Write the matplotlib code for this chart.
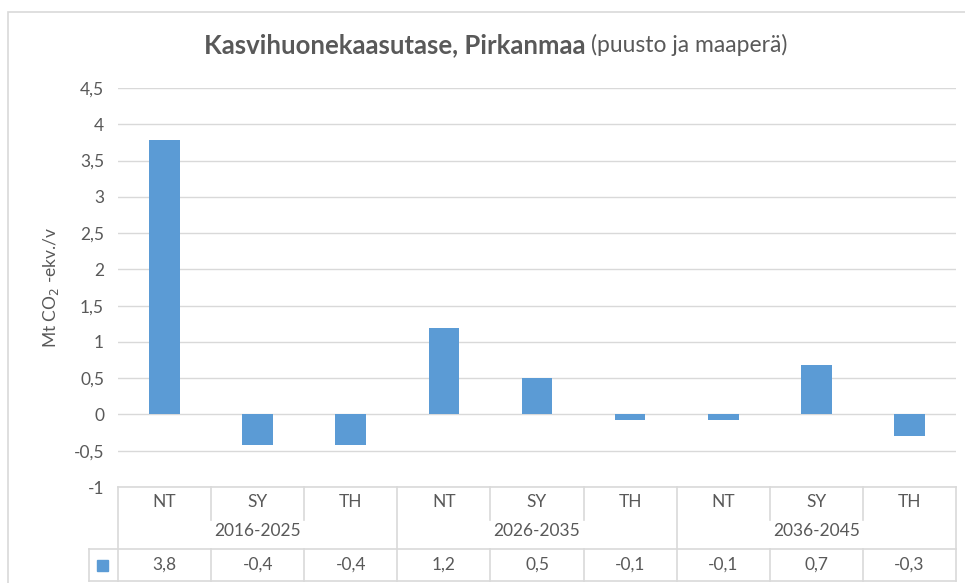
"""Greenhouse gas balance bar chart with Excel-style data table below."""

import matplotlib
matplotlib.use("Agg")
import matplotlib.pyplot as plt
from matplotlib.lines import Line2D
from matplotlib.patches import Rectangle

plt.rcParams["font.family"] = ["Lato", "DejaVu Sans"]

# data
periods = ["2016-2025", "2026-2035", "2036-2045"]
scenarios = ["NT", "SY", "TH"]
values = [3.78, -0.42, -0.42, 1.19, 0.50, -0.08, -0.08, 0.68, -0.30]
y_ticks = [-1, -0.5, 0, 0.5, 1, 1.5, 2, 2.5, 3, 3.5, 4, 4.5]

BAR = "#5b9bd5"
TXT = "#595959"
GRID = "#d9d9d9"
FS = 12.5

W, H = 965, 583
fig = plt.figure(figsize=(W / 100, H / 100), dpi=100)


def fx(px):
    return px / W


def fy(py):
    return 1 - py / H


# outer chart border
fig.add_artist(Rectangle((fx(8), fy(600)), fx(965), fy(12) - fy(600),
                         transform=fig.transFigure, fill=False,
                         edgecolor="#d9d9d9", lw=1.2))

left, right, top, bottom = 118, 956, 88, 487
ax = fig.add_axes([fx(left), fy(bottom), fx(right - left), fy(top) - fy(bottom)])

n = len(values)
x = list(range(n))
ax.bar(x, values, width=0.33, color=BAR, zorder=3)
ax.set_xlim(-0.5, n - 0.5)
ax.set_ylim(-1, 4.5)
ax.set_yticks(y_ticks)
ax.set_yticklabels([f"{t:g}".replace(".", ",") for t in y_ticks])
ax.tick_params(axis="y", length=0, pad=10, labelsize=FS, labelcolor=TXT)
ax.set_xticks([])
for s in ax.spines.values():
    s.set_visible(False)
ax.grid(axis="y", color=GRID, lw=1, zorder=0)
ax.set_ylabel("Mt CO$_2$ -ekv./v", fontsize=FS, color=TXT, labelpad=9)

# title: bold part + regular part
fig.text(fx(585), fy(45), "Kasvihuonekaasutase, Pirkanmaa", ha="right", va="center",
         fontsize=18.5, color=TXT, fontweight="bold")
fig.text(fx(591), fy(45), "(puusto ja maaperä)", ha="left", va="center",
         fontsize=16.5, color=TXT)

# data table below the axes
col_w = (right - left) / n
row1, row2, row3, row_end = 487, 520, 549, 581


def hline(y, x0, x1):
    fig.add_artist(Line2D([fx(x0), fx(x1)], [fy(y), fy(y)], color=GRID, lw=1.2))


def vline(xp, y0, y1):
    fig.add_artist(Line2D([fx(xp), fx(xp)], [fy(y0), fy(y1)], color=GRID, lw=1.2))


hline(row1, left, right)
hline(row3, 89, right)
hline(row_end, 89, right)
vline(89, row3, row_end)
for i in range(n + 1):
    xp = left + i * col_w
    if i % 3 == 0:
        vline(xp, row1, row_end)
    else:
        vline(xp, row1, row2)
        vline(xp, row3, row_end)

for i, v in enumerate(values):
    cx = left + (i + 0.5) * col_w
    fig.text(fx(cx), fy(502), scenarios[i % 3], ha="center", va="center",
             fontsize=FS, color=TXT)
    fig.text(fx(cx), fy(565), f"{v:.1f}".replace(".", ","), ha="center",
             va="center", fontsize=FS, color=TXT)
for j, p in enumerate(periods):
    cx = left + (3 * j + 1.5) * col_w
    fig.text(fx(cx), fy(531), p, ha="center", va="center", fontsize=FS, color=TXT)

fig.add_artist(Rectangle((fx(97), fy(571)), fx(11), fy(560) - fy(571),
                         transform=fig.transFigure, color=BAR))

fig.savefig("out.png", dpi=100)
